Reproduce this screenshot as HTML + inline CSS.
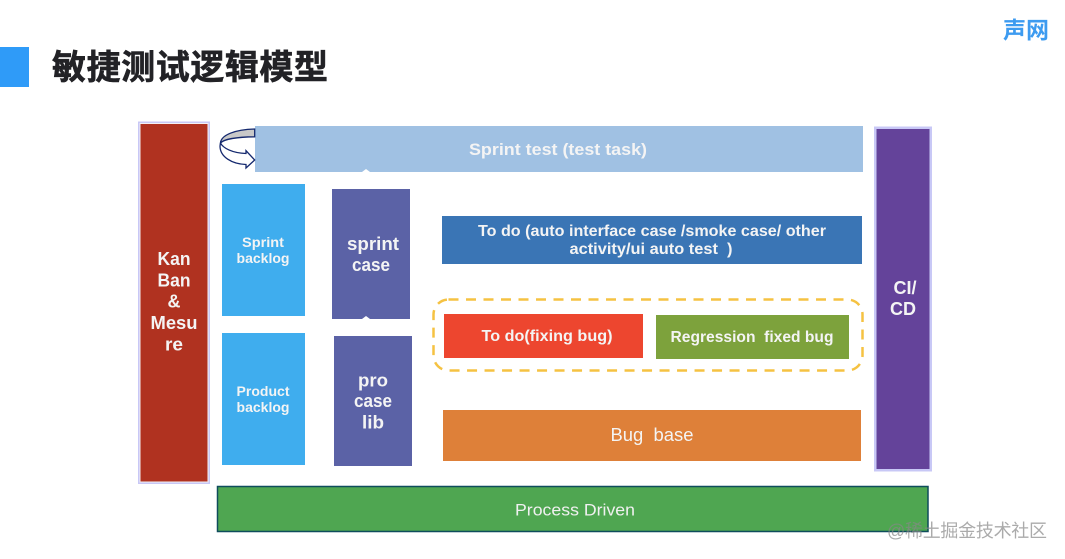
<!DOCTYPE html>
<html>
<head>
<meta charset="utf-8">
<style>
html,body{margin:0;padding:0;background:#fff;width:1065px;height:559px;overflow:hidden}
svg{display:block}
text{font-family:"Liberation Sans","Noto Sans CJK SC",sans-serif;text-anchor:middle}
.w{fill:#f4f4f4;font-weight:bold}
</style>
</head>
<body>
<svg width="1065" height="559" viewBox="0 0 1065 559" xmlns="http://www.w3.org/2000/svg">
<rect width="1065" height="559" fill="#fff"/>
<!-- header -->
<rect x="0" y="47" width="29" height="40" fill="#2f9bf8"/>
<text x="190" y="79" font-size="34" font-weight="bold" fill="#222226" stroke="#222226" stroke-width="0.6" textLength="276" lengthAdjust="spacing">敏捷测试逻辑模型</text>
<text x="1026" y="38" font-size="23" font-weight="bold" fill="#3d9bf0" textLength="46">声网</text>

<!-- Kan Ban -->
<rect x="138" y="121.500" width="72" height="362.500" fill="#c8c8f6"/>
<rect x="139.500" y="123" width="69" height="359.500" fill="#f4f0f4"/>
<rect x="140.500" y="124" width="67" height="357.500" fill="#b03220"/>
<text class="w" x="174" y="265" font-size="18" textLength="33" lengthAdjust="spacingAndGlyphs">Kan</text>
<text class="w" x="174" y="286.500" font-size="18" textLength="33" lengthAdjust="spacingAndGlyphs">Ban</text>
<text class="w" x="174" y="307.500" font-size="18">&amp;</text>
<text class="w" x="174" y="329" font-size="18" textLength="47" lengthAdjust="spacingAndGlyphs">Mesu</text>
<text class="w" x="174" y="350.500" font-size="18" textLength="18" lengthAdjust="spacingAndGlyphs">re</text>

<!-- Sprint test -->
<rect x="255" y="126" width="608" height="46" fill="#a0c1e3"/>
<text class="w" x="558" y="155" font-size="16.500" textLength="178" lengthAdjust="spacingAndGlyphs">Sprint test (test task)</text>
<path d="M362 172 L366 169 L370 172Z" fill="#fff"/>

<!-- circular arrow -->
<path d="M220.500 143 C223 148 232 153 246 153.500 L246 150.700 L254.700 160 L246 168 L246 164.500 C232 164 220 157 220 146 Z" fill="#fff" stroke="#14286e" stroke-width="1.300"/>
<path d="M254.700 129 C235 129.500 221 135 220.500 143 C224 139 238 137 254.700 136.800 Z" fill="#c8c8c8" stroke="#14286e" stroke-width="1.300"/>

<!-- backlog -->
<rect x="222" y="184" width="83" height="132" fill="#3fadee"/>
<text class="w" x="263" y="247" font-size="13.500" textLength="42" lengthAdjust="spacingAndGlyphs">Sprint</text>
<text class="w" x="263" y="263" font-size="13.500" textLength="53" lengthAdjust="spacingAndGlyphs">backlog</text>
<rect x="222" y="333" width="83" height="132" fill="#3fadee"/>
<text class="w" x="263" y="396" font-size="13.500" textLength="53" lengthAdjust="spacingAndGlyphs">Product</text>
<text class="w" x="263" y="412" font-size="13.500" textLength="53" lengthAdjust="spacingAndGlyphs">backlog</text>

<!-- case -->
<rect x="332" y="189" width="78" height="130" fill="#5b62a6"/>
<path d="M362 319 L366 316 L370 319Z" fill="#fff"/>
<text class="w" x="373" y="250" font-size="18" textLength="52" lengthAdjust="spacingAndGlyphs">sprint</text>
<text class="w" x="371" y="271" font-size="18" textLength="38" lengthAdjust="spacingAndGlyphs">case</text>
<rect x="334" y="336" width="78" height="130" fill="#5b62a6"/>
<text class="w" x="373" y="386.500" font-size="18" textLength="30" lengthAdjust="spacingAndGlyphs">pro</text>
<text class="w" x="373" y="407" font-size="18" textLength="38" lengthAdjust="spacingAndGlyphs">case</text>
<text class="w" x="373" y="428.500" font-size="18" textLength="22" lengthAdjust="spacingAndGlyphs">lib</text>

<!-- To do -->
<rect x="442" y="216" width="420" height="48" fill="#3a75b5"/>
<text class="w" x="652" y="236" font-size="15.500" textLength="348" lengthAdjust="spacingAndGlyphs">To do (auto interface case /smoke case/ other</text>
<text class="w" x="651" y="254" font-size="15.500" textLength="163" lengthAdjust="spacingAndGlyphs" xml:space="preserve">activity/ui auto test  )</text>

<!-- dashed group -->
<rect x="433.500" y="299.500" width="429" height="71" rx="15" ry="15" fill="none" stroke="#f5c242" stroke-width="2.500" stroke-dasharray="10 7.500"/>
<rect x="444" y="314" width="199" height="44" fill="#ed462f"/>
<text class="w" x="547" y="341" font-size="15.500" textLength="131" lengthAdjust="spacingAndGlyphs">To do(fixing bug)</text>
<rect x="656" y="315" width="193" height="44" fill="#7da23c"/>
<text class="w" x="752" y="342" font-size="15.500" textLength="163" lengthAdjust="spacingAndGlyphs" xml:space="preserve">Regression  fixed bug</text>

<!-- Bug base -->
<rect x="443" y="410" width="418" height="51" fill="#de8039"/>
<text x="652" y="441" font-size="18" fill="#f4f4f4" textLength="83" lengthAdjust="spacingAndGlyphs" xml:space="preserve">Bug  base</text>

<!-- CI/CD -->
<rect x="874" y="126.500" width="58" height="345" fill="#c8c8f6"/>
<rect x="876.500" y="129" width="53" height="340" fill="#64439a"/>
<text class="w" x="905" y="294" font-size="18">CI/</text>
<text class="w" x="903" y="315" font-size="18">CD</text>

<!-- Process Driven -->
<rect x="217.500" y="486.500" width="710.500" height="45" fill="#4fa651" stroke="#0f4c5c" stroke-width="1.500"/>
<text x="575" y="515.500" font-size="16.500" fill="#f0f0f0" textLength="120" lengthAdjust="spacingAndGlyphs">Process Driven</text>

<!-- watermark -->
<text x="967" y="537" font-size="18" fill="#888" fill-opacity="0.7" textLength="160">@稀土掘金技术社区</text>
</svg>
</body>
</html>
